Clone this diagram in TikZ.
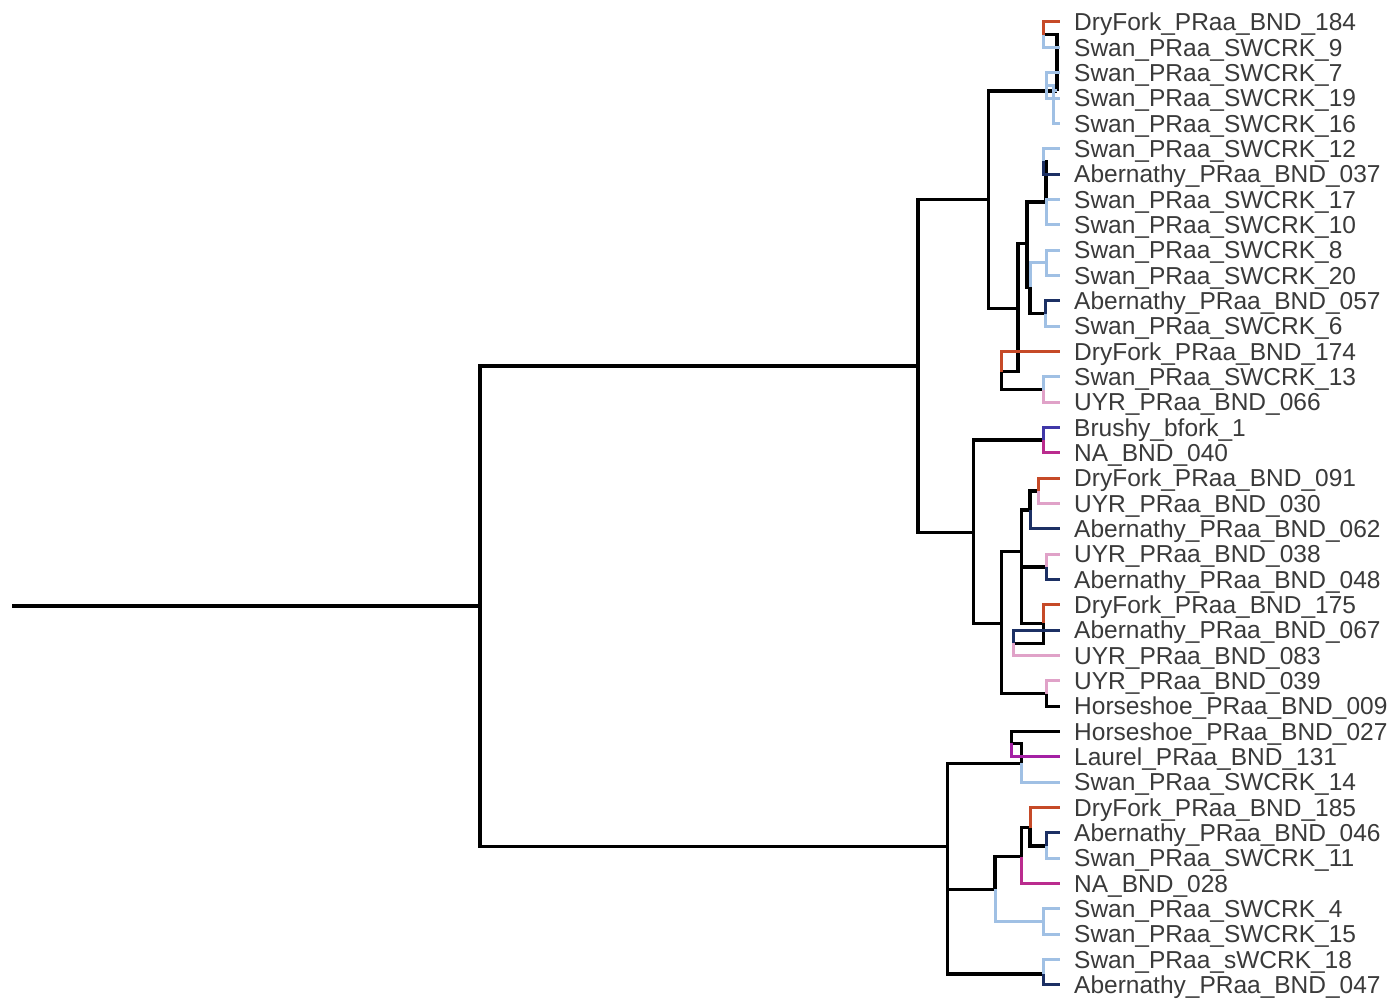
\documentclass[tikz,border=0pt]{standalone}
\usepackage{fontspec}
\setmainfont{Liberation Sans}
\definecolor{swan}{RGB}{160,192,228}
\definecolor{aber}{RGB}{28,48,100}
\definecolor{dry}{RGB}{198,74,40}
\definecolor{uyr}{RGB}{224,162,200}
\definecolor{brushy}{RGB}{64,56,168}
\definecolor{nacol}{RGB}{186,44,142}
\definecolor{laurel}{RGB}{164,32,164}
\definecolor{txtc}{RGB}{58,58,58}
\begin{document}
\begin{tikzpicture}[x=1pt,y=-1pt,
  blk/.style={line width=3.2pt, draw=black},
  lf/.style={line width=3pt},
  lab/.style={anchor=base west, inner sep=0pt, text=txtc, font=\fontsize{24.5}{25}\selectfont}]
\useasboundingbox[fill=white] (0,0) rectangle (1388,1003);

% leaves and labels
\foreach \i/\txt in {
 1/DryFork\_PRaa\_BND\_184, 2/Swan\_PRaa\_SWCRK\_9, 3/Swan\_PRaa\_SWCRK\_7,
 4/Swan\_PRaa\_SWCRK\_19, 5/Swan\_PRaa\_SWCRK\_16, 6/Swan\_PRaa\_SWCRK\_12,
 7/Abernathy\_PRaa\_BND\_037, 8/Swan\_PRaa\_SWCRK\_17, 9/Swan\_PRaa\_SWCRK\_10,
 10/Swan\_PRaa\_SWCRK\_8, 11/Swan\_PRaa\_SWCRK\_20, 12/Abernathy\_PRaa\_BND\_057,
 13/Swan\_PRaa\_SWCRK\_6, 14/DryFork\_PRaa\_BND\_174, 15/Swan\_PRaa\_SWCRK\_13,
 16/UYR\_PRaa\_BND\_066, 17/Brushy\_bfork\_1, 18/NA\_BND\_040,
 19/DryFork\_PRaa\_BND\_091, 20/UYR\_PRaa\_BND\_030, 21/Abernathy\_PRaa\_BND\_062,
 22/UYR\_PRaa\_BND\_038, 23/Abernathy\_PRaa\_BND\_048, 24/DryFork\_PRaa\_BND\_175,
 25/Abernathy\_PRaa\_BND\_067, 26/UYR\_PRaa\_BND\_083, 27/UYR\_PRaa\_BND\_039,
 28/Horseshoe\_PRaa\_BND\_009, 29/Horseshoe\_PRaa\_BND\_027, 30/Laurel\_PRaa\_BND\_131,
 31/Swan\_PRaa\_SWCRK\_14, 32/DryFork\_PRaa\_BND\_185, 33/Abernathy\_PRaa\_BND\_046,
 34/Swan\_PRaa\_SWCRK\_11, 35/NA\_BND\_028, 36/Swan\_PRaa\_SWCRK\_4,
 37/Swan\_PRaa\_SWCRK\_15, 38/Swan\_PRaa\_sWCRK\_18, 39/Abernathy\_PRaa\_BND\_047} {
  \pgfmathsetmacro{\yy}{22+(\i-1)*25.34}
  \coordinate (l\i) at (1060,\yy);
  \node[lab] (t\i) at (1074,{\yy+8.7}) {\txt};
}

% internal nodes
\coordinate (S) at (12,606);
\coordinate (R) at (480,606);
\coordinate (T0) at (918,366);
\coordinate (T1) at (988.3,199.4);
\coordinate (T2) at (973.3,532.7);
\coordinate (B0) at (947.3,846.7);
\coordinate (B01) at (947.3,931);
\coordinate (D) at (1057,91);
\coordinate (A) at (1043,34.7);
\coordinate (C) at (1053,91);
\coordinate (B) at (1046,85.3);
\coordinate (E) at (1018,308.3);
\coordinate (I) at (1027,243.3);
\coordinate (H) at (1046,202);
\coordinate (F) at (1043,161.4);
\coordinate (G) at (1046,212);
\coordinate (M) at (1030,287);
\coordinate (K) at (1046,262.7);
\coordinate (N) at (1045,313.5);
\coordinate (P) at (1001.7,371.7);
\coordinate (Q) at (1043,389.5);
\coordinate (U) at (1043.3,440);
\coordinate (V) at (1001.7,623.3);
\coordinate (W) at (1021.7,551.7);
\coordinate (W2) at (1021.7,596);
\coordinate (Y) at (1030,510);
\coordinate (Y1) at (1038.3,490.9);
\coordinate (Z) at (1046.7,567);
\coordinate (AA) at (1043.3,623.3);
\coordinate (AB) at (1013.3,643.3);
\coordinate (X) at (1046.7,693.7);
\coordinate (CA) at (1021.7,763.3);
\coordinate (CD) at (1011.7,743.3);
\coordinate (CB) at (995,889.3);
\coordinate (CE) at (1021.7,856.7);
\coordinate (CG) at (1030,827.7);
\coordinate (CH) at (1046,846);
\coordinate (CF) at (1043.3,921.7);
\coordinate (CC) at (1043.3,974);

% black internal edges
\draw[blk] (S) -- (R);
\draw[blk] (R) |- (T0);  \draw[blk] (R) |- (B0);
\draw[blk] (T0) |- (T1); \draw[blk] (T0) |- (T2);
\draw[blk] (T1) |- (D);  \draw[blk] (T1) |- (E);
\draw[blk] (D) |- (A);
\draw[blk] (E) |- (I);   \draw[blk] (E) |- (P);
\draw[blk] (I) |- (H);   \draw[blk] (I) |- (M);
\draw[blk] (H) |- (F);
\draw[blk] (M) |- (N);
\draw[blk] (P) |- (Q);
\draw[blk] (T2) |- (U);  \draw[blk] (T2) |- (V);
\draw[blk] (V) |- (W);   \draw[blk] (V) |- (X);
\draw[blk] (W) |- (Y);   \draw[blk] (W) |- (W2);
\draw[blk] (Y) |- (Y1);
\draw[blk] (W2) |- (Z);  \draw[blk] (W2) |- (AA);
\draw[blk] (AA) |- (AB);
\draw[blk] (B0) |- (CA); \draw[blk] (B0) |- (B01);
\draw[blk] (CA) |- (CD);
\draw[blk] (B01) |- (CB); \draw[blk] (B01) |- (CC);
\draw[blk] (CB) |- (CE);
\draw[blk] (CE) |- (CG);
\draw[blk] (CG) |- (CH);

% single-colour internal edges
\draw[lf,swan] (D) |- (C);
\draw[lf,swan] (C) |- (B);
\draw[lf,swan] (H) |- (G);
\draw[lf,swan] (M) |- (K);
\draw[lf,swan] (CB) |- (CF);

% leaf edges
\draw[lf,dry] (A) |- (l1);   \draw[lf,swan] (A) |- (l2);
\draw[lf,swan] (B) |- (l3);  \draw[lf,swan] (B) |- (l4);
\draw[lf,swan] (C) |- (l5);
\draw[lf,swan] (F) |- (l6);  \draw[lf,aber] (F) |- (l7);
\draw[lf,swan] (G) |- (l8);  \draw[lf,swan] (G) |- (l9);
\draw[lf,swan] (K) |- (l10); \draw[lf,swan] (K) |- (l11);
\draw[lf,aber] (N) |- (l12); \draw[lf,swan] (N) |- (l13);
\draw[lf,dry] (P) |- (l14);
\draw[lf,swan] (Q) |- (l15); \draw[lf,uyr] (Q) |- (l16);
\draw[lf,brushy] (U) |- (l17); \draw[lf,nacol] (U) |- (l18);
\draw[lf,dry] (Y1) |- (l19); \draw[lf,uyr] (Y1) |- (l20);
\draw[lf,aber] (Y) |- (l21);
\draw[lf,uyr] (Z) |- (l22);  \draw[lf,aber] (Z) |- (l23);
\draw[lf,dry] (AA) |- (l24);
\draw[lf,aber] (AB) |- (l25); \draw[lf,uyr] (AB) |- (l26);
\draw[lf,uyr] (X) |- (l27);  \draw[lf,black] (X) |- (l28);
\draw[lf,black] (CD) |- (l29); \draw[lf,laurel] (CD) |- (l30);
\draw[lf,swan] (CA) |- (l31);
\draw[lf,dry] (CG) |- (l32);
\draw[lf,aber] (CH) |- (l33); \draw[lf,swan] (CH) |- (l34);
\draw[lf,nacol] (CE) |- (l35);
\draw[lf,swan] (CF) |- (l36); \draw[lf,swan] (CF) |- (l37);
\draw[lf,swan] (CC) |- (l38); \draw[lf,aber] (CC) |- (l39);
\end{tikzpicture}
\end{document}
